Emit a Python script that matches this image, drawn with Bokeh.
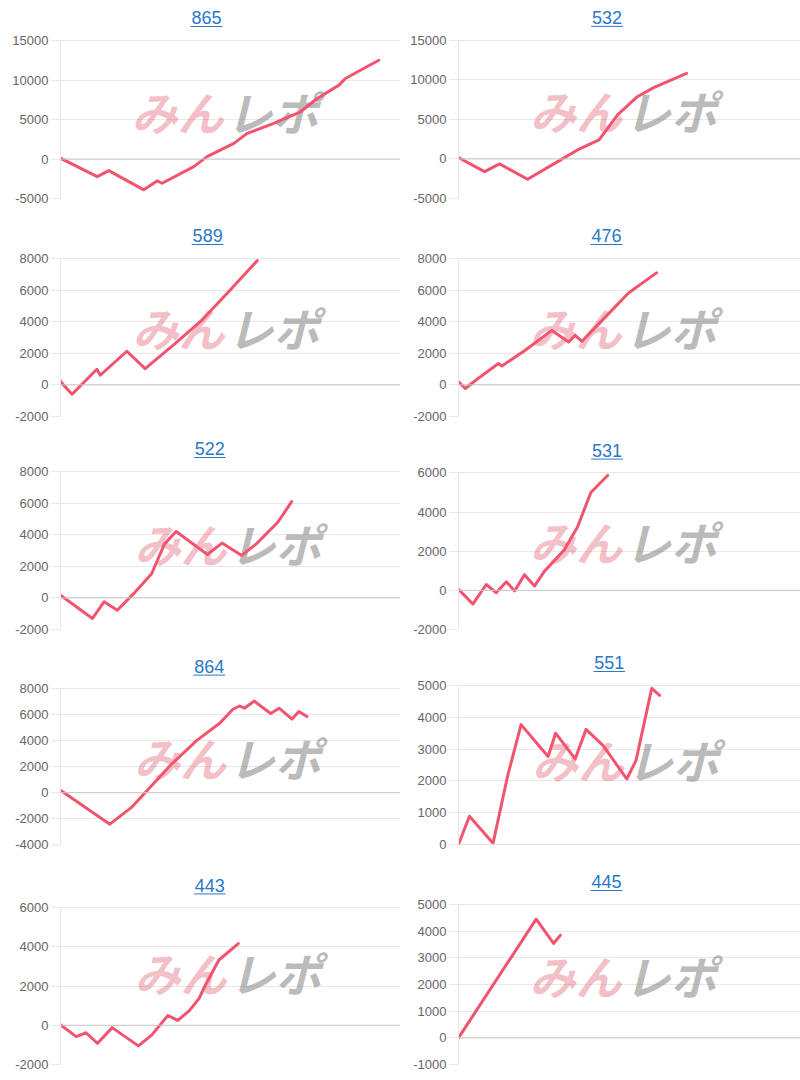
from bokeh.plotting import figure
from bokeh.layouts import gridplot
from bokeh.models import Range1d, FixedTicker, Span
from bokeh.core.properties import value
from bokeh.embed import file_html
from bokeh.resources import INLINE

# ---- data (x = position along the play axis, 0-100; y = cumulative medals) ----
titles = ["865", "532", "589", "476", "522", "531", "864", "551", "443", "445"]

x_865 = [0, 10.8, 14.2, 24.5, 28.4, 29.9, 39.2, 43.1, 51.0, 54.9, 62.7, 70.6, 75.5, 81.9, 83.8, 88.2, 93.6]
y_865 = [100, -2230, -1470, -3900, -2780, -3070, -970, 300, 1980, 3240, 4500, 5980, 7660, 9350, 10190, 11240, 12500]

x_532 = [0, 7.6, 12.0, 20.2, 29.0, 34.8, 41.1, 46.5, 52.3, 57.2, 66.7]
y_532 = [170, -1600, -630, -2570, -340, 1140, 2400, 5560, 7870, 9050, 10820]

x_589 = [0, 0.5, 3.4, 10.7, 11.7, 19.5, 24.9, 33.7, 41.5, 49.3, 57.9]
y_589 = [250, 80, -590, 990, 610, 2130, 1030, 2610, 4080, 5870, 7870]

x_476 = [0, 2.0, 6.3, 11.7, 12.7, 19.5, 27.3, 32.2, 34.1, 36.1, 43.4, 49.8, 57.9]
y_476 = [190, -230, 505, 1350, 1200, 2190, 3450, 2720, 3140, 2760, 4400, 5830, 7090]

x_522 = [0, 9.4, 12.8, 16.7, 21.5, 26.8, 30.6, 34.0, 43.2, 47.5, 53.3, 57.6, 63.9, 68.0]
y_522 = [170, -1300, -250, -780, 270, 1530, 3420, 4200, 2750, 3470, 2690, 3420, 4790, 6090]

x_531 = [0, 4.2, 8.1, 11.0, 14.0, 16.4, 19.3, 22.2, 25.1, 30.9, 34.8, 38.7, 43.6]
y_531 = [50, -700, 300, -120, 440, -30, 800, 220, 970, 2060, 3240, 5000, 5870]

x_864 = [0, 14.5, 20.8, 32.4, 40.1, 46.9, 50.7, 52.7, 54.1, 57.0, 61.8, 64.3, 68.1, 70.1, 72.5]
y_864 = [180, -2430, -1160, 2130, 4030, 5370, 6430, 6680, 6510, 7060, 6100, 6510, 5670, 6250, 5870]

x_551 = [0, 3.2, 10.1, 14.4, 18.3, 26.2, 28.4, 34.1, 37.3, 42.3, 49.2, 51.9, 56.5, 58.8]
y_551 = [0, 890, 40, 2170, 3770, 2770, 3500, 2690, 3620, 3110, 2060, 2640, 4910, 4690]

x_443 = [0, 4.6, 6.5, 7.5, 10.9, 15.2, 22.9, 26.8, 31.6, 34.5, 37.9, 40.8, 42.7, 46.6, 52.3]
y_443 = [30, -580, -450, -380, -920, -120, -1050, -500, 500, 250, 750, 1380, 2080, 3330, 4170]

x_445 = [0, 22.7, 27.8, 29.8]
y_445 = [0, 4450, 3540, 3850]

# y-axis ranges (min, max, step)
y_axes = {
    "865": (-5000, 15000, 5000), "532": (-5000, 15000, 5000),
    "589": (-2000, 8000, 2000), "476": (-2000, 8000, 2000),
    "522": (-2000, 8000, 2000), "531": (-2000, 6000, 2000),
    "864": (-4000, 8000, 2000), "551": (0, 5000, 1000),
    "443": (-2000, 6000, 2000), "445": (-1000, 5000, 1000),
}

series = {
    "865": (x_865, y_865), "532": (x_532, y_532), "589": (x_589, y_589),
    "476": (x_476, y_476), "522": (x_522, y_522), "531": (x_531, y_531),
    "864": (x_864, y_864), "551": (x_551, y_551), "443": (x_443, y_443),
    "445": (x_445, y_445),
}

# layout: plot-area left, top, bottom (pixels inside each 400x216 panel)
geom = {
    "865": (60, 40, 198), "532": (57, 40, 199),
    "589": (58, 42, 200), "476": (58, 42, 200),
    "522": (54, 39, 197), "531": (57, 41, 200),
    "864": (55, 41, 199), "551": (53, 37, 196),
    "443": (54, 44, 204), "445": (58, 40, 200),
}

W, H = 400, 216
LINE = "#f25470"
BLUE = "#2a78c8"
GRID = "#e8e8e8"


def make(name, col):
    xs, ys = series[name]
    ymin, ymax, step = y_axes[name]
    L, T, B = geom[name]
    fw = W - L
    per_px = (ymax - ymin) / (B - T)
    ytop = ymax + T * per_px  # frame reaches the top of the panel (title area)

    def dx(px):
        return (px - L) / fw * 100.0

    def dy(py):
        return ytop - py * per_px

    ticks = list(range(ymin, ymax + 1, step))
    p = figure(width=W, height=H, output_backend="svg", toolbar_location=None, tools="",
               x_range=Range1d(0, 100), y_range=Range1d(ymin, ytop),
               min_border_left=L, min_border_right=0, min_border_top=0, min_border_bottom=H - B)
    p.outline_line_color = None
    p.background_fill_color = "white"
    p.border_fill_color = "white"
    p.xaxis.visible = False
    p.xgrid.visible = False
    p.ygrid.grid_line_color = GRID
    p.ygrid.ticker = FixedTicker(ticks=ticks)
    ax = p.yaxis[0]
    ax.ticker = FixedTicker(ticks=ticks)
    ax.bounds = (ymin, ymax)
    ax.major_label_overrides = {t: str(t) for t in ticks}
    ax.major_label_text_font = "Liberation Sans"
    ax.major_label_text_font_size = "13px"
    ax.major_label_text_color = "#666666"
    ax.axis_line_color = GRID
    ax.major_tick_line_color = GRID
    ax.major_tick_out = 9
    ax.major_tick_in = 0
    ax.minor_tick_line_color = None
    ax.major_label_standoff = 3

    p.add_layout(Span(location=0, dimension="width", line_color="#c8c8c8", line_width=1))

    # watermark
    gap = 226 if col == 0 else 224
    p.text(x=[dx(gap - 3)], y=[dy(110)], text=["みん"], text_align="right", text_baseline="middle",
           text_font=value("Noto Sans CJK JP"), text_font_style="bold italic",
           text_font_size="46px", text_color="#e06474", text_alpha=0.42)
    p.text(x=[dx(gap)], y=[dy(110)], text=["レポ"], text_align="left", text_baseline="middle",
           text_font=value("Noto Sans CJK JP"), text_font_style="bold italic",
           text_font_size="46px", text_color="#808080", text_alpha=0.55)

    p.line(xs, ys, line_color=LINE, line_width=3, line_join="round", line_cap="round")

    # title with underline
    tx = 206 if col == 0 else 206
    ty = T - 23
    p.text(x=[dx(tx)], y=[dy(ty)], text=[name], text_align="center", text_baseline="middle",
           text_font=value("Liberation Sans"), text_font_size="18px", text_color=BLUE)
    p.segment(x0=[dx(tx - 16)], y0=[dy(ty + 9)], x1=[dx(tx + 16)], y1=[dy(ty + 9)],
              line_color=BLUE, line_width=1)
    return p


figs = []
for i in range(0, 10, 2):
    figs.append([make(titles[i], 0), make(titles[i + 1], 1)])

grid = gridplot(figs, toolbar_location=None)
open("out.html", "w").write(file_html(grid, INLINE))
